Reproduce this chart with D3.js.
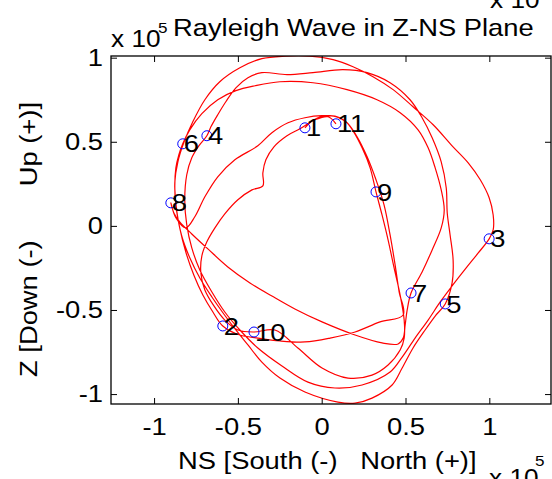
<!DOCTYPE html>
<html><head><meta charset="utf-8">
<script src="https://cdn.jsdelivr.net/npm/d3@7/dist/d3.min.js"></script>
<style>
body{margin:0;background:#fff;}
text{font-family:"Liberation Sans",Arial,Helvetica,sans-serif;fill:#000;white-space:pre;}
</style>
</head><body>
<svg id="c" width="552" height="479"></svg>
<script>
// ---- data (units of 1e5) ----
const xTicks = [-1, -0.5, 0, 0.5, 1];
const xTickLabels = ["-1", "-0.5", "0", "0.5", "1"];
const yTicks = [-1, -0.5, 0, 0.5, 1];
const yTickLabels = ["-1", "-0.5", "0", "0.5", "1"];

const markerLabels = ["1","2","3","4","5","6","7","8","9","10","11"];
const markerNS = [-0.100, -0.590, 0.999, -0.685, 0.737, -0.829, 0.533, -0.900, 0.324, -0.404, 0.085];
const markerZ  = [ 0.583, -0.595, -0.077, 0.536, -0.464, 0.488, -0.399, 0.137, 0.202, -0.631, 0.607];

// particle-motion trace, NS component
const pathNS = [
 -0.100,
 -0.046, 0.038, 0.109, 0.157, 0.211, 0.271, 0.324, 0.372, 0.408, 0.438, 0.462, 0.486, 0.348, 0.199, 0.050, -0.100, -0.249, -0.381, -0.488, -0.590,
 -0.649, -0.709, -0.763, -0.811, -0.847, -0.870, -0.876, -0.858, -0.823, -0.769, -0.697, -0.608, -0.488, -0.357, -0.219, -0.070, 0.068, 0.187, 0.306, 0.426, 0.545, 0.665, 0.778, 0.874, 0.946, 0.999, 1.023, 1.023, 0.999,
 0.934, 0.862, 0.778, 0.707, 0.635, 0.557, 0.480, 0.408, 0.241, 0.079, -0.082, -0.237, -0.381, -0.488, -0.578, -0.655, -0.727, -0.775, -0.805, -0.817, -0.805, -0.775, -0.733, -0.685,
 -0.661, -0.620, -0.572, -0.512, -0.440, -0.357, -0.207, -0.052, 0.127, 0.271, 0.408, 0.527, 0.599, 0.659, 0.713, 0.743, 0.749, 0.766, 0.784, 0.778, 0.737,
 0.677, 0.617, 0.545, 0.480, 0.420, 0.300, 0.199, 0.097, -0.100, -0.249, -0.357, -0.440, -0.512, -0.584, -0.655, -0.727, -0.787, -0.835, -0.864, -0.876, -0.870, -0.852, -0.829,
 -0.787, -0.715, -0.620, -0.512, -0.398, -0.249, -0.052, 0.151, 0.330, 0.468, 0.575, 0.635, 0.677, 0.713, 0.731, 0.713, 0.659, 0.599, 0.533,
 0.510, 0.498, 0.486, 0.456, 0.360, 0.199, 0.002, -0.160, -0.297, -0.428, -0.560, -0.679, -0.775, -0.847, -0.882, -0.900,
 -0.870, -0.811, -0.757, -0.697, -0.620, -0.518, -0.381, -0.297, -0.201, -0.100, 0.002, 0.085, 0.145, 0.187, 0.241, 0.289, 0.324,
 0.360, 0.396, 0.432, 0.468, 0.492, 0.492, 0.468, 0.396, 0.300, 0.157, 0.002, -0.142, -0.279, -0.404,
 -0.500, -0.578, -0.643, -0.697, -0.721, -0.715, -0.685, -0.637, -0.578, -0.500, -0.416, -0.351, -0.351, -0.333, -0.285, -0.207, -0.130, -0.040, 0.038, 0.085
];
// particle-motion trace, Z component
const pathZ = [
 0.583,
 0.631, 0.655, 0.643, 0.607, 0.530, 0.411, 0.274, 0.125, -0.054, -0.232, -0.393, -0.530, -0.571, -0.631, -0.667, -0.690, -0.684, -0.667, -0.649, -0.595,
 -0.512, -0.411, -0.292, -0.155, -0.012, 0.125, 0.262, 0.381, 0.494, 0.619, 0.750, 0.857, 0.940, 0.994, 1.009, 1.009, 0.988, 0.946, 0.887, 0.810, 0.708, 0.601, 0.476, 0.375, 0.274, 0.167, 0.065, -0.024, -0.077,
 -0.161, -0.250, -0.357, -0.452, -0.560, -0.667, -0.780, -0.869, -0.946, -0.964, -0.929, -0.833, -0.726, -0.619, -0.512, -0.393, -0.262, -0.131, 0.006, 0.155, 0.304, 0.405, 0.476, 0.536,
 0.589, 0.661, 0.738, 0.821, 0.881, 0.911, 0.899, 0.911, 0.929, 0.911, 0.851, 0.750, 0.643, 0.524, 0.381, 0.226, 0.077, -0.054, -0.202, -0.339, -0.464,
 -0.536, -0.619, -0.726, -0.845, -0.946, -1.024, -1.054, -1.048, -0.988, -0.905, -0.810, -0.708, -0.619, -0.524, -0.423, -0.310, -0.190, -0.060, 0.083, 0.214, 0.345, 0.423, 0.488,
 0.571, 0.667, 0.750, 0.804, 0.833, 0.857, 0.851, 0.810, 0.750, 0.673, 0.571, 0.464, 0.345, 0.214, 0.095, -0.012, -0.143, -0.274, -0.399,
 -0.500, -0.589, -0.667, -0.702, -0.696, -0.649, -0.571, -0.494, -0.417, -0.339, -0.244, -0.137, -0.048, 0.024, 0.077, 0.137,
 0.048, -0.012, 0.054, 0.173, 0.292, 0.393, 0.476, 0.554, 0.613, 0.643, 0.655, 0.649, 0.619, 0.565, 0.464, 0.345, 0.202,
 0.065, -0.083, -0.250, -0.411, -0.560, -0.667, -0.738, -0.827, -0.887, -0.905, -0.845, -0.726, -0.619, -0.631,
 -0.619, -0.560, -0.476, -0.381, -0.280, -0.179, -0.095, -0.012, 0.071, 0.155, 0.214, 0.238, 0.315, 0.393, 0.470, 0.536, 0.577, 0.631, 0.649, 0.607
];

const titleText = "Rayleigh Wave in Z-NS Plane";
const xLabelText = "NS [South (-)   North (+)]";
const yLabelLower = "Z [Down (-)";
const yLabelUpper = "Up (+)]";
const exponentText = "x 10";
const exponentSup = "5";

// ---- layout ----
const PL = 111, PT = 56, PR = 551, PB = 404;
const svg = d3.select("#c");
const x = d3.scaleLinear().domain([-1.257, 1.368]).range([PL, PR]);
const y = d3.scaleLinear().domain([-1.059, 1.010]).range([PB, PT]);
const FONT = "'Liberation Sans', Arial, Helvetica, sans-serif";
const SX = 1.14;

svg.append("defs").append("clipPath").attr("id", "clip")
  .append("rect").attr("x", PL).attr("y", PT).attr("width", PR - PL).attr("height", PB - PT);

// trace
const pts = pathNS.map((v, i) => [v, pathZ[i]]);
const line = d3.line().x(d => x(d[0])).y(d => y(d[1])).curve(d3.curveCatmullRom.alpha(0.5));
svg.append("path").attr("d", line(pts))
  .attr("fill", "none").attr("stroke", "#ff0000").attr("stroke-width", 1.2)
  .attr("clip-path", "url(#clip)");

// markers
svg.selectAll("circle.mk").data(markerNS).enter().append("circle")
  .attr("class", "mk")
  .attr("cx", d => x(d)).attr("cy", (d, i) => y(markerZ[i])).attr("r", 5)
  .attr("fill", "none").attr("stroke", "#0000ff").attr("stroke-width", 1);

svg.selectAll("text.mk").data(markerLabels).enter().append("text")
  .attr("class", "mk")
  .attr("transform", (d, i) => `translate(${x(markerNS[i]) + 1},${y(markerZ[i])}) scale(${SX},1)`)
  .attr("dy", "0.36em").attr("font-size", 24).text(d => d);

// axes
function styleAxis(sel) {
  sel.select(".domain").remove();
  sel.attr("font-size", 24).attr("font-family", FONT);
  sel.selectAll(".tick line").attr("stroke", "#000").attr("stroke-width", 1);
}
const gx = svg.append("g").attr("transform", `translate(0,${PB})`)
  .call(d3.axisBottom(x).tickValues(xTicks).tickFormat((d, i) => xTickLabels[i])
    .tickSizeInner(-6).tickSizeOuter(0).tickPadding(14));
styleAxis(gx);
gx.selectAll(".tick text").attr("fill", "#000").attr("transform", `scale(${SX},1)`);

const gxt = svg.append("g").attr("transform", `translate(0,${PT})`)
  .call(d3.axisTop(x).tickValues(xTicks).tickFormat("").tickSizeInner(-6).tickSizeOuter(0));
styleAxis(gxt);

const gy = svg.append("g").attr("transform", `translate(${PL},0)`)
  .call(d3.axisLeft(y).tickValues(yTicks).tickFormat((d, i) => yTickLabels[i])
    .tickSizeInner(-6).tickSizeOuter(0).tickPadding(7));
styleAxis(gy);
gy.selectAll(".tick text").attr("fill", "#000").attr("transform", `scale(${SX},1)`);

const gyr = svg.append("g").attr("transform", `translate(${PR},0)`)
  .call(d3.axisRight(y).tickValues(yTicks).tickFormat("").tickSizeInner(-6).tickSizeOuter(0));
styleAxis(gyr);

svg.append("rect").attr("x", PL).attr("y", PT).attr("width", PR - PL).attr("height", PB - PT)
  .attr("fill", "none").attr("stroke", "#000").attr("stroke-width", 1.3);

// texts
function txt(s, tx, ty, size, rot, anchor) {
  return svg.append("text").attr("font-size", size).attr("xml:space", "preserve").text(s)
    .attr("text-anchor", anchor || "start")
    .attr("transform", `translate(${tx},${ty})${rot ? ` rotate(${rot})` : ""} scale(${SX},1)`);
}
txt(exponentText, 111, 47, 23);
txt(exponentSup, 158, 33, 15);
txt(titleText, 173, 36, 24);
txt(exponentText, 490, 8, 23);
txt(xLabelText, 178, 469, 24);
txt(exponentText, 489, 486, 23);
txt(exponentSup, 535, 466, 15);
txt(yLabelLower, 37, 377, 24, -90, "start");
txt(yLabelUpper, 37, 102, 24, -90, "end");
</script>
</body></html>
